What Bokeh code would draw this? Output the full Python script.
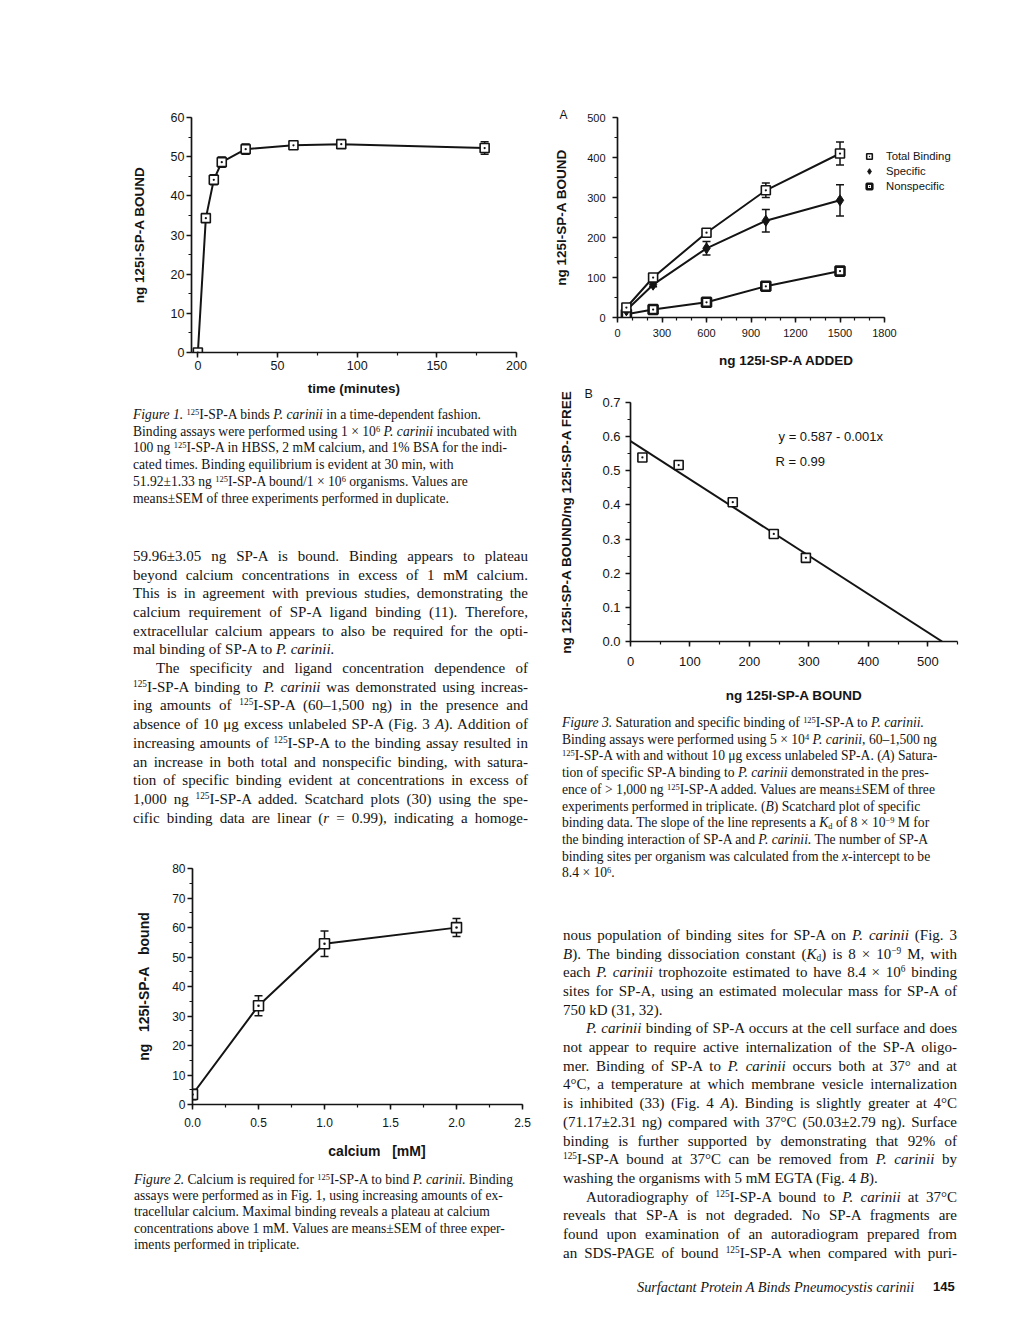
from bokeh.plotting import figure
from bokeh.models import (SingleIntervalTicker, NumeralTickFormatter, Whisker, TeeHead,
                          ColumnDataSource, Legend, LegendItem, Label, Div, Title)
from bokeh.layouts import row, column
from bokeh.embed import file_html
from bokeh.resources import INLINE

# ---------------- data ----------------
# Figure 1: time course
fig1_time = [0, 5, 10, 15, 30, 60, 90, 180]
fig1_bound = [0, 34.3, 44.1, 48.6, 51.92, 52.9, 53.2, 52.2]
fig1_sem = [0.3, 0.8, 1.3, 1.3, 1.33, 0.8, 0.6, 1.6]

# Figure 2: calcium dependence
fig2_calcium = [0.0, 0.5, 1.0, 2.0]
fig2_bound = [3.4, 33.5, 54.5, 59.96]
fig2_sem = [1.8, 3.4, 4.3, 3.05]

# Figure 3A: saturation
fig3a_added = [60, 240, 600, 1000, 1500]
fig3a_total = [25, 100, 212, 318, 410]
fig3a_total_sem = [4, 6, 5, 18, 29]
fig3a_specific = [18, 82, 173, 242, 293]
fig3a_specific_sem = [3, 5, 17, 28, 39]
fig3a_nonspecific = [8, 20, 38, 78, 116]
fig3a_legend = ["Total Binding", "Specific", "Nonspecific"]

# Figure 3B: Scatchard plot
fig3b_bound = [20, 81, 172, 241, 295]
fig3b_ratio = [0.539, 0.517, 0.408, 0.315, 0.245]
fit_intercept = 0.587
fit_slope = -0.00112
fit_text = ["y = 0.587 - 0.001x", "R = 0.99"]

SANS = "Liberation Sans"
SERIF = "Liberation Serif"
INK = "#141414"
NB = "\u00a0"


def make_fig(w, h, xr, yr, mbl, mbr, mbt, mbb):
    p = figure(width=w, height=h, x_range=xr, y_range=yr, output_backend="svg",
               toolbar_location=None, min_border_left=mbl, min_border_right=mbr,
               min_border_top=mbt, min_border_bottom=mbb)
    p.outline_line_color = None
    p.grid.visible = False
    p.background_fill_color = "white"
    p.border_fill_color = "white"
    if "frame_align" in p.properties():
        p.frame_align = False
    return p


def style_axis(ax, interval, nminor, tick_size, lab_size, standoff, lab_standoff, label, fmt=None):
    ax.ticker = SingleIntervalTicker(interval=interval, num_minor_ticks=nminor)
    ax.axis_line_width = 1.7
    ax.axis_line_color = INK
    ax.major_tick_line_width = 1.5
    ax.major_tick_line_color = INK
    ax.major_tick_out = 5
    ax.major_tick_in = 0
    ax.minor_tick_line_width = 1.2
    ax.minor_tick_line_color = INK
    ax.minor_tick_out = 3
    ax.minor_tick_in = 0
    ax.major_label_text_font = SANS
    ax.major_label_text_font_size = tick_size
    ax.major_label_text_color = INK
    ax.major_label_standoff = standoff
    ax.axis_label = label
    ax.axis_label_text_font = SANS
    ax.axis_label_text_font_style = "bold"
    ax.axis_label_text_font_size = lab_size
    ax.axis_label_text_color = INK
    ax.axis_label_standoff = lab_standoff
    if fmt:
        ax.formatter = NumeralTickFormatter(format=fmt)


def whisker(p, x, y, err, head=8):
    src = ColumnDataSource(dict(x=x, upper=[a + b for a, b in zip(y, err)],
                                lower=[a - b for a, b in zip(y, err)]))
    w = Whisker(base="x", upper="upper", lower="lower", source=src, level="underlay",
                line_color=INK, line_width=1.5,
                upper_head=TeeHead(size=head, line_width=1.5, line_color=INK),
                lower_head=TeeHead(size=head, line_width=1.5, line_color=INK))
    p.add_layout(w)


def panel_letter(p, letter, offset, standoff, size):
    t = Title(text=letter, align="left", offset=offset, standoff=standoff,
              text_font=SANS, text_font_size=size, text_font_style="normal",
              text_color=INK)
    p.add_layout(t, "above")


# ---------------- Figure 1 ----------------
p1 = make_fig(540, 404, (-4, 200), (0, 60), 191, 24, 117, 52)
style_axis(p1.xaxis[0], 50, 2, "12.5px", "13.5px", 3, 8, "time (minutes)")
style_axis(p1.yaxis[0], 10, 2, "12.5px", "13.5px", 2, 21, "ng 125I-SP-A BOUND")
whisker(p1, fig1_time, fig1_bound, fig1_sem)
p1.line(fig1_time, fig1_bound, line_color=INK, line_width=2)
p1.scatter(fig1_time, fig1_bound, marker="square_dot", size=9, fill_color="white",
           line_color=INK, line_width=1.6)

# ---------------- Figure 2 ----------------
p2 = make_fig(540, 310, (0, 2.5), (0, 80), 192, 18, 8, 66)
style_axis(p2.xaxis[0], 0.5, 2, "12px", "14px", 8, 13,
           NB * 10 + "calcium" + NB * 3 + "[mM]", "0.0")
style_axis(p2.yaxis[0], 10, 2, "12px", "14px", 2, 17,
           "ng" + NB * 3 + "125I-SP-A" + NB * 3 + "bound")
whisker(p2, fig2_calcium, fig2_bound, fig2_sem)
p2.line(fig2_calcium, fig2_bound, line_color=INK, line_width=2)
p2.scatter(fig2_calcium, fig2_bound, marker="square_dot", size=10, fill_color="white",
           line_color=INK, line_width=1.6)

# ---------------- Figure 3A ----------------
# frame runs from the y axis to past the legend; the x axis itself stops at 1800
A_LEFT, A_RIGHT = 77, 57
A_W = 472
axis_px = 267.0                      # pixel length of 0..1800
frame_px = A_W - A_LEFT - A_RIGHT
x_end = 1800 * frame_px / axis_px
p3a = make_fig(A_W, 376, (0, x_end), (0, 500), A_LEFT, A_RIGHT, 117, 59)
style_axis(p3a.xaxis[0], 300, 3, "11px", "13.5px", 6, 13, "ng 125I-SP-A ADDED")
style_axis(p3a.yaxis[0], 100, 2, "11px", "13.5px", 7, 15, "ng 125I-SP-A BOUND")
p3a.xaxis[0].bounds = (0, 1800)
whisker(p3a, fig3a_added, fig3a_total, fig3a_total_sem)
whisker(p3a, fig3a_added, fig3a_specific, fig3a_specific_sem)
p3a.line(fig3a_added, fig3a_nonspecific, line_color=INK, line_width=2)
p3a.line(fig3a_added, fig3a_specific, line_color=INK, line_width=2)
p3a.line(fig3a_added, fig3a_total, line_color=INK, line_width=2)
r_non = p3a.scatter(fig3a_added, fig3a_nonspecific, marker="square_dot", size=9,
                    fill_color="white", line_color=INK, line_width=2.6)
r_spec = p3a.scatter(fig3a_added, fig3a_specific, marker="diamond", size=11,
                     fill_color=INK, line_color=INK, line_width=1)
r_tot = p3a.scatter(fig3a_added, fig3a_total, marker="square_dot", size=9,
                    fill_color="white", line_color=INK, line_width=1.6)
legend = Legend(items=[LegendItem(label=fig3a_legend[0], renderers=[r_tot]),
                       LegendItem(label=fig3a_legend[1], renderers=[r_spec]),
                       LegendItem(label=fig3a_legend[2], renderers=[r_non])],
                location=(245, 124), orientation="vertical", border_line_color=None,
                background_fill_alpha=0, padding=0, margin=0, spacing=1,
                glyph_width=14, glyph_height=14, label_height=14, label_standoff=10,
                label_text_font=SANS, label_text_font_size="11.3px", label_text_color=INK)
p3a.add_layout(legend)
panel_letter(p3a, "A", -58, -8, "12px")

# ---------------- Figure 3B ----------------
p3b = make_fig(472, 336, (0, 550), (0, 0.7001), 90, 55, 26, 71)
style_axis(p3b.xaxis[0], 100, 2, "13px", "13.5px", 10, 19, "ng 125I-SP-A BOUND")
style_axis(p3b.yaxis[0], 0.1, 2, "13px", "13.5px", 5, 25,
           "ng 125I-SP-A BOUND/ng 125I-SP-A FREE", "0.0")
fit_x = [0, -fit_intercept / fit_slope]
fit_y = [fit_intercept + fit_slope * v for v in fit_x]
p3b.line(fit_x, fit_y, line_color=INK, line_width=2)
p3b.scatter(fig3b_bound, fig3b_ratio, marker="square_dot", size=9, fill_color="white",
            line_color=INK, line_width=1.6)
p3b.add_layout(Label(x=249, y=0.600, text=fit_text[0], text_font=SANS, text_font_size="13px",
                     text_align="left", text_baseline="middle", text_color=INK))
p3b.add_layout(Label(x=244, y=0.527, text=fit_text[1], text_font=SANS, text_font_size="13px",
                     text_align="left", text_baseline="middle", text_color=INK))
panel_letter(p3b, "B", -46, 3, "12.5px")

# ---------------- text ----------------
STYLE = ("<style>sup{font-size:0.62em;line-height:0;vertical-align:0.5em}"
         "sub{font-size:0.62em;line-height:0;vertical-align:-0.2em}</style>")

cap1_lines = [
    "<i>Figure 1.</i> <sup>125</sup>I-SP-A binds <i>P. carinii</i> in a time-dependent fashion.",
    "Binding assays were performed using 1 × 10<sup>6</sup> <i>P. carinii</i> incubated with",
    "100 ng <sup>125</sup>I-SP-A in HBSS, 2 mM calcium, and 1% BSA for the indi-",
    "cated times. Binding equilibrium is evident at 30 min, with",
    "51.92±1.33 ng <sup>125</sup>I-SP-A bound/1 × 10<sup>6</sup> organisms. Values are",
    "means±SEM of three experiments performed in duplicate.",
]
body_left = [
    ("59.96±3.05 ng SP-A is bound. Binding appears to plateau", "j"),
    ("beyond calcium concentrations in excess of 1 mM calcium.", "j"),
    ("This is in agreement with previous studies, demonstrating the", "j"),
    ("calcium requirement of SP-A ligand binding (11). Therefore,", "j"),
    ("extracellular calcium appears to also be required for the opti-", "j"),
    ("mal binding of SP-A to <i>P. carinii.</i>", "l"),
    ("The specificity and ligand concentration dependence of", "i"),
    ("<sup>125</sup>I-SP-A binding to <i>P. carinii</i> was demonstrated using increas-", "j"),
    ("ing amounts of <sup>125</sup>I-SP-A (60–1,500 ng) in the presence and", "j"),
    ("absence of 10 μg excess unlabeled SP-A (Fig. 3 <i>A</i>). Addition of", "j"),
    ("increasing amounts of <sup>125</sup>I-SP-A to the binding assay resulted in", "j"),
    ("an increase in both total and nonspecific binding, with satura-", "j"),
    ("tion of specific binding evident at concentrations in excess of", "j"),
    ("1,000 ng <sup>125</sup>I-SP-A added. Scatchard plots (30) using the spe-", "j"),
    ("cific binding data are linear (<i>r</i> = 0.99), indicating a homoge-", "j"),
]
cap2_lines = [
    "<i>Figure 2.</i> Calcium is required for <sup>125</sup>I-SP-A to bind <i>P. carinii.</i> Binding",
    "assays were performed as in Fig. 1, using increasing amounts of ex-",
    "tracellular calcium. Maximal binding reveals a plateau at calcium",
    "concentrations above 1 mM. Values are means±SEM of three exper-",
    "iments performed in triplicate.",
]
cap3_lines = [
    "<i>Figure 3.</i> Saturation and specific binding of <sup>125</sup>I-SP-A to <i>P. carinii.</i>",
    "Binding assays were performed using 5 × 10<sup>4</sup> <i>P. carinii</i>, 60–1,500 ng",
    "<sup>125</sup>I-SP-A with and without 10 μg excess unlabeled SP-A. (<i>A</i>) Satura-",
    "tion of specific SP-A binding to <i>P. carinii</i> demonstrated in the pres-",
    "ence of &gt; 1,000 ng <sup>125</sup>I-SP-A added. Values are means±SEM of three",
    "experiments performed in triplicate. (<i>B</i>) Scatchard plot of specific",
    "binding data. The slope of the line represents a <i>K</i><sub>d</sub> of 8 × 10<sup>−9</sup> M for",
    "the binding interaction of SP-A and <i>P. carinii.</i> The number of SP-A",
    "binding sites per organism was calculated from the <i>x</i>-intercept to be",
    "8.4 × 10<sup>6</sup>.",
]
body_right = [
    ("nous population of binding sites for SP-A on <i>P. carinii</i> (Fig. 3", "j"),
    ("<i>B</i>). The binding dissociation constant (<i>K</i><sub>d</sub>) is 8 × 10<sup>−9</sup> M, with", "j"),
    ("each <i>P. carinii</i> trophozoite estimated to have 8.4 × 10<sup>6</sup> binding", "j"),
    ("sites for SP-A, using an estimated molecular mass for SP-A of", "j"),
    ("750 kD (31, 32).", "l"),
    ("<i>P. carinii</i> binding of SP-A occurs at the cell surface and does", "i"),
    ("not appear to require active internalization of the SP-A oligo-", "j"),
    ("mer. Binding of SP-A to <i>P. carinii</i> occurs both at 37° and at", "j"),
    ("4°C, a temperature at which membrane vesicle internalization", "j"),
    ("is inhibited (33) (Fig. 4 <i>A</i>). Binding is slightly greater at 4°C", "j"),
    ("(71.17±2.31 ng) compared with 37°C (50.03±2.79 ng). Surface", "j"),
    ("binding is further supported by demonstrating that 92% of", "j"),
    ("<sup>125</sup>I-SP-A bound at 37°C can be removed from <i>P. carinii</i> by", "j"),
    ("washing the organisms with 5 mM EGTA (Fig. 4 <i>B</i>).", "l"),
    ("Autoradiography of <sup>125</sup>I-SP-A bound to <i>P. carinii</i> at 37°C", "i"),
    ("reveals that SP-A is not degraded. No SP-A fragments are", "j"),
    ("found upon examination of an autoradiogram prepared from", "j"),
    ("an SDS-PAGE of bound <sup>125</sup>I-SP-A when compared with puri-", "j"),
]
footer_title = "Surfactant Protein A Binds Pneumocystis carinii"
footer_page = "145"


def line_html(html, cy, left, width, size, lh, mode, extra=""):
    top = cy - lh / 2.0
    indent = 0
    if mode == "i":
        indent = 23
        mode = "j"
    if mode == "j":
        ta = "text-align:justify;text-align-last:justify;white-space:normal;"
    else:
        ta = "text-align:left;white-space:nowrap;"
    return ('<div style="position:absolute;left:%.1fpx;top:%.1fpx;width:%.1fpx;height:%.1fpx;'
            'line-height:%.1fpx;font-size:%.1fpx;%s%s">%s</div>'
            % (left + indent, top, width - indent, lh, lh, size, ta, extra, html))


def block(width, height, parts):
    return Div(text=STYLE + '<div style="position:relative;width:%dpx;height:%dpx;'
               'font-family:\'%s\';color:%s;">%s</div>' % (width, height, SERIF, INK, "".join(parts)),
               width=width, height=height, margin=(0, 0, 0, 0))


# left middle block: top at page y 404
L1_TOP = 404
parts = []
for i, t in enumerate(cap1_lines):
    parts.append(line_html(t, 415 + 16.7 * i - L1_TOP, 133, 400, 13.6, 16, "l"))
for i, (t, m) in enumerate(body_left):
    parts.append(line_html(t, 556 + 18.7 * i - L1_TOP, 133, 395, 15, 18.5, m))
div_l1 = block(540, 456, parts)

# left bottom block: top at page y 1170
L2_TOP = 1170
parts = []
for i, t in enumerate(cap2_lines):
    parts.append(line_html(t, 1180 + 16.2 * i - L2_TOP, 134, 405, 13.6, 16, "l"))
div_l2 = block(540, 142, parts)

# right block: top at page y 712, left at page x 540
R_TOP = 712
parts = []
for i, t in enumerate(cap3_lines):
    parts.append(line_html(t, 723 + 16.7 * i - R_TOP, 22, 440, 13.6, 16, "l"))
for i, (t, m) in enumerate(body_right):
    parts.append(line_html(t, 935 + 18.7 * i - R_TOP, 23, 394, 15, 18.5, m))
parts.append(line_html("<i>%s</i>" % footer_title, 1287 - R_TOP, 97, 300, 14.3, 18, "l"))
parts.append(line_html(footer_page, 1287 - R_TOP, 393, 40, 13, 18, "l",
                       "font-family:'Liberation Sans';font-weight:bold;"))
div_r = block(472, 600, parts)

left = column(p1, div_l1, p2, div_l2, spacing=0)
right = column(p3a, p3b, div_r, spacing=0)
page = row(left, right, spacing=0)

open("out.html", "w").write(file_html(page, INLINE))
